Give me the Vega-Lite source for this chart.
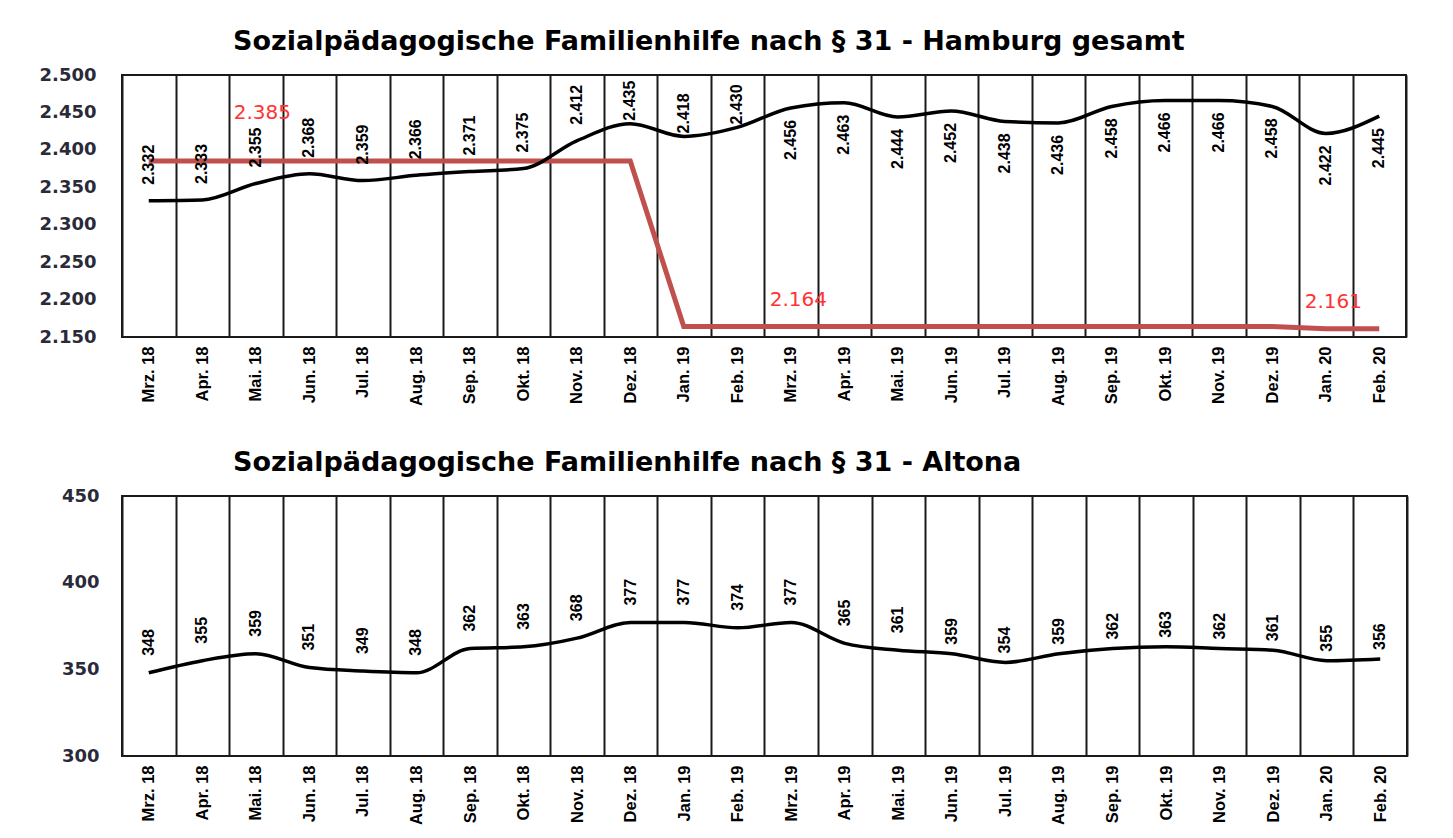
{
  "$schema": "https://vega.github.io/schema/vega-lite/v6.json",
  "background": "white",
  "padding": {"left": 5, "top": 27, "right": 5, "bottom": 2},
  "spacing": 41,
  "config": {
    "locale": {"number": {"decimal": ",", "thousands": ".", "grouping": [3], "currency": ["", " €"]}},
    "view": {"stroke": "#1a1a1a", "strokeWidth": 2},
    "axisX": {
      "title": null, "grid": true, "tickBand": "extent", "gridColor": "#1a1a1a", "gridWidth": 2,
      "ticks": false, "domain": false, "labelAngle": -90, "labelAlign": "right", "labelBaseline": "middle",
      "labelFont": "Liberation Sans", "labelFontSize": 16.5, "labelFontWeight": "bold", "labelColor": "black", "labelPadding": 9,
      "minExtent": 68, "maxExtent": 68
    },
    "axisY": {
      "title": null, "grid": false, "ticks": false, "tickSize": 0, "domain": false,
      "labelFont": "DejaVu Sans", "labelFontSize": 18, "labelFontWeight": "bold", "labelColor": "#2a2a38", "labelPadding": 26,
      "labelOverlap": false, "minExtent": 116, "maxExtent": 116
    },
    "title": {"font": "DejaVu Sans", "fontWeight": "bold", "fontSize": 27, "color": "black", "anchor": "start", "frame": "group", "offset": 10}
  },
  "datasets": {
    "hamburg": [
      {"Monat": "Mrz. 18", "Ist": 2332, "Richtwert": 2385},
      {"Monat": "Apr. 18", "Ist": 2333, "Richtwert": 2385},
      {"Monat": "Mai. 18", "Ist": 2355, "Richtwert": 2385},
      {"Monat": "Jun. 18", "Ist": 2368, "Richtwert": 2385},
      {"Monat": "Jul. 18", "Ist": 2359, "Richtwert": 2385},
      {"Monat": "Aug. 18", "Ist": 2366, "Richtwert": 2385},
      {"Monat": "Sep. 18", "Ist": 2371, "Richtwert": 2385},
      {"Monat": "Okt. 18", "Ist": 2375, "Richtwert": 2385},
      {"Monat": "Nov. 18", "Ist": 2412, "Richtwert": 2385},
      {"Monat": "Dez. 18", "Ist": 2435, "Richtwert": 2385},
      {"Monat": "Jan. 19", "Ist": 2418, "Richtwert": 2164},
      {"Monat": "Feb. 19", "Ist": 2430, "Richtwert": 2164},
      {"Monat": "Mrz. 19", "Ist": 2456, "Richtwert": 2164},
      {"Monat": "Apr. 19", "Ist": 2463, "Richtwert": 2164},
      {"Monat": "Mai. 19", "Ist": 2444, "Richtwert": 2164},
      {"Monat": "Jun. 19", "Ist": 2452, "Richtwert": 2164},
      {"Monat": "Jul. 19", "Ist": 2438, "Richtwert": 2164},
      {"Monat": "Aug. 19", "Ist": 2436, "Richtwert": 2164},
      {"Monat": "Sep. 19", "Ist": 2458, "Richtwert": 2164},
      {"Monat": "Okt. 19", "Ist": 2466, "Richtwert": 2164},
      {"Monat": "Nov. 19", "Ist": 2466, "Richtwert": 2164},
      {"Monat": "Dez. 19", "Ist": 2458, "Richtwert": 2164},
      {"Monat": "Jan. 20", "Ist": 2422, "Richtwert": 2161},
      {"Monat": "Feb. 20", "Ist": 2445, "Richtwert": 2161}
    ],
    "altona": [
      {"Monat": "Mrz. 18", "Ist": 348},
      {"Monat": "Apr. 18", "Ist": 355},
      {"Monat": "Mai. 18", "Ist": 359},
      {"Monat": "Jun. 18", "Ist": 351},
      {"Monat": "Jul. 18", "Ist": 349},
      {"Monat": "Aug. 18", "Ist": 348},
      {"Monat": "Sep. 18", "Ist": 362},
      {"Monat": "Okt. 18", "Ist": 363},
      {"Monat": "Nov. 18", "Ist": 368},
      {"Monat": "Dez. 18", "Ist": 377},
      {"Monat": "Jan. 19", "Ist": 377},
      {"Monat": "Feb. 19", "Ist": 374},
      {"Monat": "Mrz. 19", "Ist": 377},
      {"Monat": "Apr. 19", "Ist": 365},
      {"Monat": "Mai. 19", "Ist": 361},
      {"Monat": "Jun. 19", "Ist": 359},
      {"Monat": "Jul. 19", "Ist": 354},
      {"Monat": "Aug. 19", "Ist": 359},
      {"Monat": "Sep. 19", "Ist": 362},
      {"Monat": "Okt. 19", "Ist": 363},
      {"Monat": "Nov. 19", "Ist": 362},
      {"Monat": "Dez. 19", "Ist": 361},
      {"Monat": "Jan. 20", "Ist": 355},
      {"Monat": "Feb. 20", "Ist": 356}
    ]
  },
  "vconcat": [
    {
      "width": 1284,
      "height": 262,
      "title": {"text": "Sozialpädagogische Familienhilfe nach § 31 - Hamburg gesamt", "dx": 111},
      "data": {"name": "hamburg"},
      "encoding": {
        "x": {"field": "Monat", "type": "ordinal", "sort": null, "scale": {"type": "band", "paddingInner": 0, "paddingOuter": 0}},
        "y": {"type": "quantitative", "scale": {"domain": [2150, 2500], "nice": false, "zero": false},
              "axis": {"values": [2150, 2200, 2250, 2300, 2350, 2400, 2450, 2500], "format": ",d"}}
      },
      "layer": [
        {"mark": {"type": "line", "color": "#c0504d", "strokeWidth": 5}, "encoding": {"y": {"field": "Richtwert", "type": "quantitative"}}},
        {"mark": {"type": "line", "color": "black", "strokeWidth": 3.5, "interpolate": "monotone"}, "encoding": {"y": {"field": "Ist", "type": "quantitative"}}},
        {
          "transform": [{"filter": {"field": "Monat", "oneOf": ["Mrz. 18", "Apr. 18", "Mai. 18", "Jun. 18", "Jul. 18", "Aug. 18", "Sep. 18", "Okt. 18", "Nov. 18"]}}],
          "mark": {"type": "text", "angle": 270, "align": "left", "baseline": "middle", "dx": 16, "font": "Liberation Sans", "fontSize": 16, "fontWeight": "bold", "color": "black"},
          "encoding": {"y": {"field": "Ist", "type": "quantitative"}, "text": {"field": "Ist", "type": "quantitative", "format": ",d"}}
        },
        {
          "transform": [{"filter": {"field": "Monat", "oneOf": ["Dez. 18", "Jan. 19", "Feb. 19"]}}],
          "mark": {"type": "text", "angle": 270, "align": "left", "baseline": "middle", "dx": 3, "font": "Liberation Sans", "fontSize": 16, "fontWeight": "bold", "color": "black"},
          "encoding": {"y": {"field": "Ist", "type": "quantitative"}, "text": {"field": "Ist", "type": "quantitative", "format": ",d"}}
        },
        {
          "transform": [{"filter": {"field": "Monat", "oneOf": ["Mrz. 19", "Apr. 19", "Mai. 19", "Jun. 19", "Jul. 19", "Aug. 19", "Sep. 19", "Okt. 19", "Nov. 19", "Dez. 19", "Jan. 20", "Feb. 20"]}}],
          "mark": {"type": "text", "angle": 270, "align": "right", "baseline": "middle", "dx": -12, "font": "Liberation Sans", "fontSize": 16, "fontWeight": "bold", "color": "black"},
          "encoding": {"y": {"field": "Ist", "type": "quantitative"}, "text": {"field": "Ist", "type": "quantitative", "format": ",d"}}
        },
        {
          "transform": [{"filter": {"field": "Monat", "equal": "Mai. 18"}}],
          "mark": {"type": "text", "align": "left", "baseline": "middle", "dx": -22, "dy": -48, "font": "DejaVu Sans", "fontSize": 20, "color": "#ff3333"},
          "encoding": {"y": {"field": "Richtwert", "type": "quantitative"}, "text": {"field": "Richtwert", "type": "quantitative", "format": ",d"}}
        },
        {
          "transform": [{"filter": {"field": "Monat", "oneOf": ["Mrz. 19", "Jan. 20"]}}],
          "mark": {"type": "text", "align": "left", "baseline": "middle", "dx": -21, "dy": -27, "font": "DejaVu Sans", "fontSize": 20, "color": "#ff3333"},
          "encoding": {"y": {"field": "Richtwert", "type": "quantitative"}, "text": {"field": "Richtwert", "type": "quantitative", "format": ",d"}}
        }
      ]
    },
    {
      "width": 1285,
      "height": 260,
      "title": {"text": "Sozialpädagogische Familienhilfe nach § 31 - Altona", "dx": 111},
      "data": {"name": "altona"},
      "encoding": {
        "x": {"field": "Monat", "type": "ordinal", "sort": null, "scale": {"type": "band", "paddingInner": 0, "paddingOuter": 0}},
        "y": {"field": "Ist", "type": "quantitative", "scale": {"domain": [300, 450], "nice": false, "zero": false},
              "axis": {"values": [300, 350, 400, 450], "format": ",d", "labelPadding": 23}}
      },
      "layer": [
        {"mark": {"type": "line", "color": "black", "strokeWidth": 3.5, "interpolate": "monotone"}},
        {
          "transform": [{"filter": {"field": "Monat", "oneOf": ["Mrz. 18", "Apr. 18", "Mai. 18", "Jun. 18", "Jul. 18", "Aug. 18", "Sep. 18", "Okt. 18", "Nov. 18", "Dez. 18", "Jan. 19", "Feb. 19", "Mrz. 19", "Apr. 19", "Mai. 19"]}}],
          "mark": {"type": "text", "angle": 270, "align": "left", "baseline": "middle", "dx": 17, "font": "Liberation Sans", "fontSize": 16, "fontWeight": "bold", "color": "black"},
          "encoding": {"text": {"field": "Ist", "type": "quantitative", "format": ",d"}}
        },
        {
          "transform": [{"filter": {"field": "Monat", "oneOf": ["Jun. 19", "Jul. 19", "Aug. 19", "Sep. 19", "Okt. 19", "Nov. 19", "Dez. 19", "Jan. 20", "Feb. 20"]}}],
          "mark": {"type": "text", "angle": 270, "align": "left", "baseline": "middle", "dx": 9, "font": "Liberation Sans", "fontSize": 16, "fontWeight": "bold", "color": "black"},
          "encoding": {"text": {"field": "Ist", "type": "quantitative", "format": ",d"}}
        }
      ]
    }
  ]
}
